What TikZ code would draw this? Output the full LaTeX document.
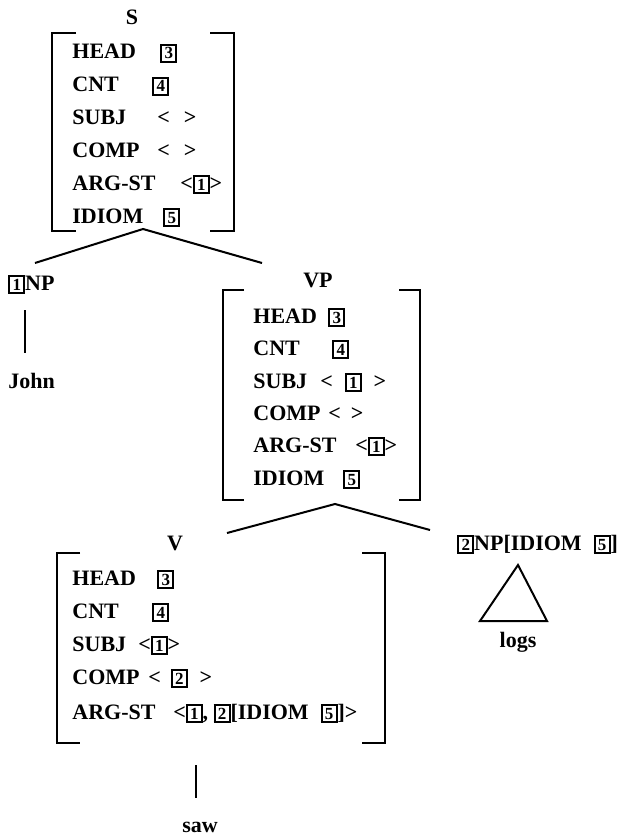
\documentclass[tikz,border=0pt]{standalone}
\usepackage{fontspec}
\setmainfont{Liberation Serif}
\setlength{\fboxsep}{0.8pt}
\setlength{\fboxrule}{1pt}
\newcommand{\tg}[1]{\fbox{\fontsize{8.5}{8.5}\selectfont\makebox[4.8pt]{#1}}}
\def\avmbox(#1,#2)(#3,#4)#5{\draw[brk] (#1+#5,#2) -- (#1,#2) -- (#1,#4) -- (#1+#5,#4);
	\draw[brk] (#3-#5,#2) -- (#3,#2) -- (#3,#4) -- (#3-#5,#4);}
\tikzset{
	cat/.style={font=\fontsize{11}{13}\selectfont\bfseries, inner sep=0pt, anchor=base},
	feat/.style={font=\fontsize{11}{13}\selectfont\bfseries, inner sep=0pt, anchor=base west},
	brk/.style={line width=1pt},
	branch/.style={line width=1pt}
}

\begin{document}
\begin{tikzpicture}[x=0.5pt, y=-0.5pt]
		%%%%% START %%%%%
		\useasboundingbox (0,0) rectangle (626,840);
		
		% S
		\node[cat] (S) at (132,25) {S};
		\avmbox(52,33)(234,231){24};
		\node[feat] (s-head) at (72,59) {HEAD};
		\node[feat] (s-head-v) at (160,59) {\tg{3}};
		\node[feat] (s-cnt) at (72,92) {CNT};
		\node[feat] (s-cnt-v) at (152,92) {\tg{4}};
		\node[feat] (s-subj) at (72,125) {SUBJ};
		\node[feat] (s-subj-v) at (157,125) {<\hspace{7pt}>};
		\node[feat] (s-comp) at (72,157) {COMP};
		\node[feat] (s-comp-v) at (157,157) {<\hspace{7pt}>};
		\node[feat] (s-arg) at (72,190) {ARG-ST};
		\node[feat] (s-arg-v) at (180,190) {<\tg{1}>};
		\node[feat] (s-idiom) at (72,223) {IDIOM};
		\node[feat] (s-idiom-v) at (163,223) {\tg{5}};
		
		\coordinate (s-foot) at (143,229);
		\coordinate (np1-top) at (35,263);
		\coordinate (vp-top) at (262,263);
		\draw[branch] (np1-top) -- (s-foot) -- (vp-top);
		
		% NP John
		\node[feat] (NP1) at (8,290) {\tg{1}NP};
		\node[feat] (John) at (8,388) {John};
		\coordinate (john-a) at (25,310);
		\coordinate (john-b) at (25,353);
		\draw[branch] (john-a) -- (john-b);
		
		% VP
		\node[cat] (VP) at (318,287) {VP};
		\avmbox(223,290)(420,500){21};
		\node[feat] (vp-head) at (253,323) {HEAD};
		\node[feat] (vp-head-v) at (328,323) {\tg{3}};
		\node[feat] (vp-cnt) at (253,355) {CNT};
		\node[feat] (vp-cnt-v) at (332,355) {\tg{4}};
		\node[feat] (vp-subj) at (253,388) {SUBJ};
		\node[feat] (vp-subj-v) at (320,388) {<\hspace{6pt}\tg{1}\hspace{6pt}>};
		\node[feat] (vp-comp) at (253,420) {COMP};
		\node[feat] (vp-comp-v) at (328,420) {<\hspace{5pt}>};
		\node[feat] (vp-arg) at (253,452) {ARG-ST};
		\node[feat] (vp-arg-v) at (355,452) {<\tg{1}>};
		\node[feat] (vp-idiom) at (253,485) {IDIOM};
		\node[feat] (vp-idiom-v) at (343,485) {\tg{5}};
		
		\coordinate (vp-foot) at (335,504);
		\coordinate (v-top) at (227,533);
		\coordinate (np2-top) at (430,530);
		\draw[branch] (v-top) -- (vp-foot) -- (np2-top);
		
		% NP logs
		\node[feat] (NP2) at (457,550) {\tg{2}NP[IDIOM\hspace{6pt}\tg{5}]};
		\draw[branch] (518,565) -- (547,621) -- (480,621) -- cycle;
		\node[cat] (logs) at (518,647) {logs};
		
		% V
		\node[cat] (V) at (175,550) {V};
		\avmbox(57,553)(385,743){23};
		\node[feat] (v-head) at (72,585) {HEAD};
		\node[feat] (v-head-v) at (157,585) {\tg{3}};
		\node[feat] (v-cnt) at (72,618) {CNT};
		\node[feat] (v-cnt-v) at (152,618) {\tg{4}};
		\node[feat] (v-subj) at (72,651) {SUBJ};
		\node[feat] (v-subj-v) at (138,651) {<\tg{1}>};
		\node[feat] (v-comp) at (72,684) {COMP};
		\node[feat] (v-comp-v) at (148,684) {<\hspace{5pt}\tg{2}\hspace{6pt}>};
		\node[feat] (v-arg) at (72,719) {ARG-ST};
		\node[feat] (v-arg-v) at (173,719) {<\tg{1}, \tg{2}[IDIOM\hspace{6pt}\tg{5}]>};
		
		% saw
		\node[cat] (saw) at (200,832) {saw};
		\coordinate (saw-a) at (196,765);
		\coordinate (saw-b) at (196,798);
		\draw[branch] (saw-a) -- (saw-b);
		
		%%%%% END %%%%%
	\end{tikzpicture}
\end{document}
